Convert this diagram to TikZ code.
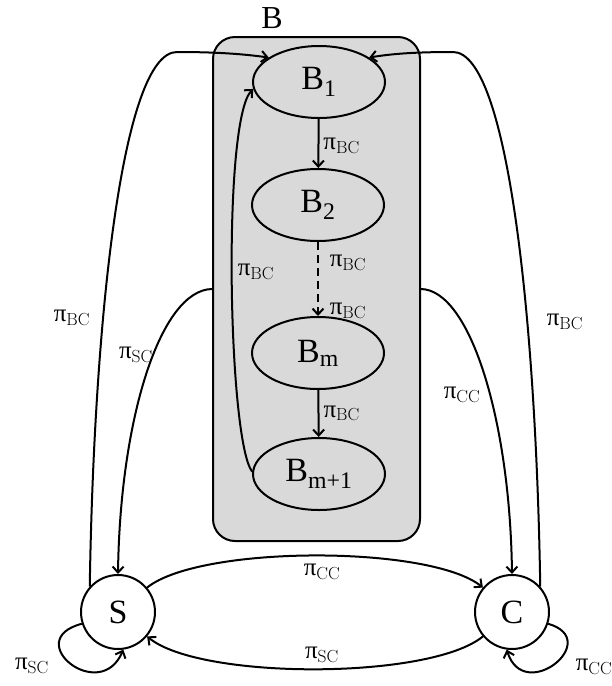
\documentclass[tikz,border=0pt]{standalone}
\usepackage{fontspec}
\setmainfont{Liberation Serif}
\usetikzlibrary{shapes.geometric,arrows.meta}
\newcommand{\plab}[1]{π\textsubscript{\fontspec{Latin Modern Roman}#1}}
\begin{document}
\begin{tikzpicture}[x=1pt,y=-1pt,line width=2pt,
  arr/.style={-{Straight Barb[length=6pt,width=11pt]}},
  bst/.style={ellipse,draw,fill=black!15,minimum width=132pt,minimum height=72pt,inner sep=0pt,font=\fontsize{34}{34}\selectfont},
  cst/.style={circle,draw,fill=white,minimum size=74pt,inner sep=0pt,font=\fontsize{34}{34}\selectfont},
  lab/.style={font=\fontsize{25}{25}\selectfont,inner sep=1pt}]
\useasboundingbox (0,0) rectangle (611,686);
\node[draw,rounded corners=22pt,fill=black!15,minimum width=207pt,minimum height=504pt] (box) at (316.5,289) {};
\node[font=\fontsize{32}{32}\selectfont] (Blab) at (272,18) {B};
\node[bst] (B1) at (319,82) {B\textsubscript{1}};
\node[bst] (B2) at (318,205) {B\textsubscript{2}};
\node[bst] (Bm) at (318,353) {B\textsubscript{m}};
\node[bst] (Bm1) at (319,474) {B\textsubscript{m+1}};
\node[cst] (S) at (118,612) {S};
\node[cst] (C) at (512,612) {C};
\coordinate (TL) at (177,52);
\coordinate (TR) at (453,52);
% inner chain
\draw[arr] (B1) -- (B2) node[lab,pos=0.55,right=3pt] {\plab{BC}};
\draw[arr,dash pattern=on 8pt off 5pt] (B2) -- (Bm);
\node[lab] at (348,263) {\plab{BC}};
\node[lab] at (348,311) {\plab{BC}};
\draw[arr] (Bm) -- (Bm1) node[lab,pos=0.5,right=3pt] {\plab{BC}};
\draw[arr] (Bm1.178) .. controls (228,440) and (222,120) .. (B1.186);
\node[lab] at (256,272) {\plab{BC}};
% outer loops to B1
\draw[arr] (S.138) .. controls (94,320) and (122,52) .. (TL) .. controls (225,52) and (250,55) .. (B1.154);
\node[lab] at (72,318) {\plab{BC}};
\draw[arr] (C.42) .. controls (536,320) and (508,52) .. (TR) .. controls (405,52) and (385,55) .. (B1.26);
\node[lab] at (565,322) {\plab{BC}};
% box to S and C
\draw[arr] (box.west) .. controls (160,290) and (120,420) .. (S.90);
\node[lab] at (136,355) {\plab{SC}};
\draw[arr] (box.east) .. controls (470,290) and (510,420) .. (C.90);
\node[lab] at (462,395) {\plab{CC}};
% S <-> C
\draw[arr] (S.40) .. controls (200,545) and (430,545) .. (C.140);
\node[lab] at (322,572) {\plab{CC}};
\draw[arr] (C.220) .. controls (430,680) and (200,680) .. (S.320);
\node[lab] at (322,655) {\plab{SC}};
% self loops
\draw[arr] (S.198) .. controls (20,640) and (100,705) .. (S.278);
\node[lab] at (32,666) {\plab{SC}};
\draw[arr] (C.342) .. controls (604,640) and (524,705) .. (C.262);
\node[lab] at (594,667) {\plab{CC}};
\end{tikzpicture}
\end{document}
